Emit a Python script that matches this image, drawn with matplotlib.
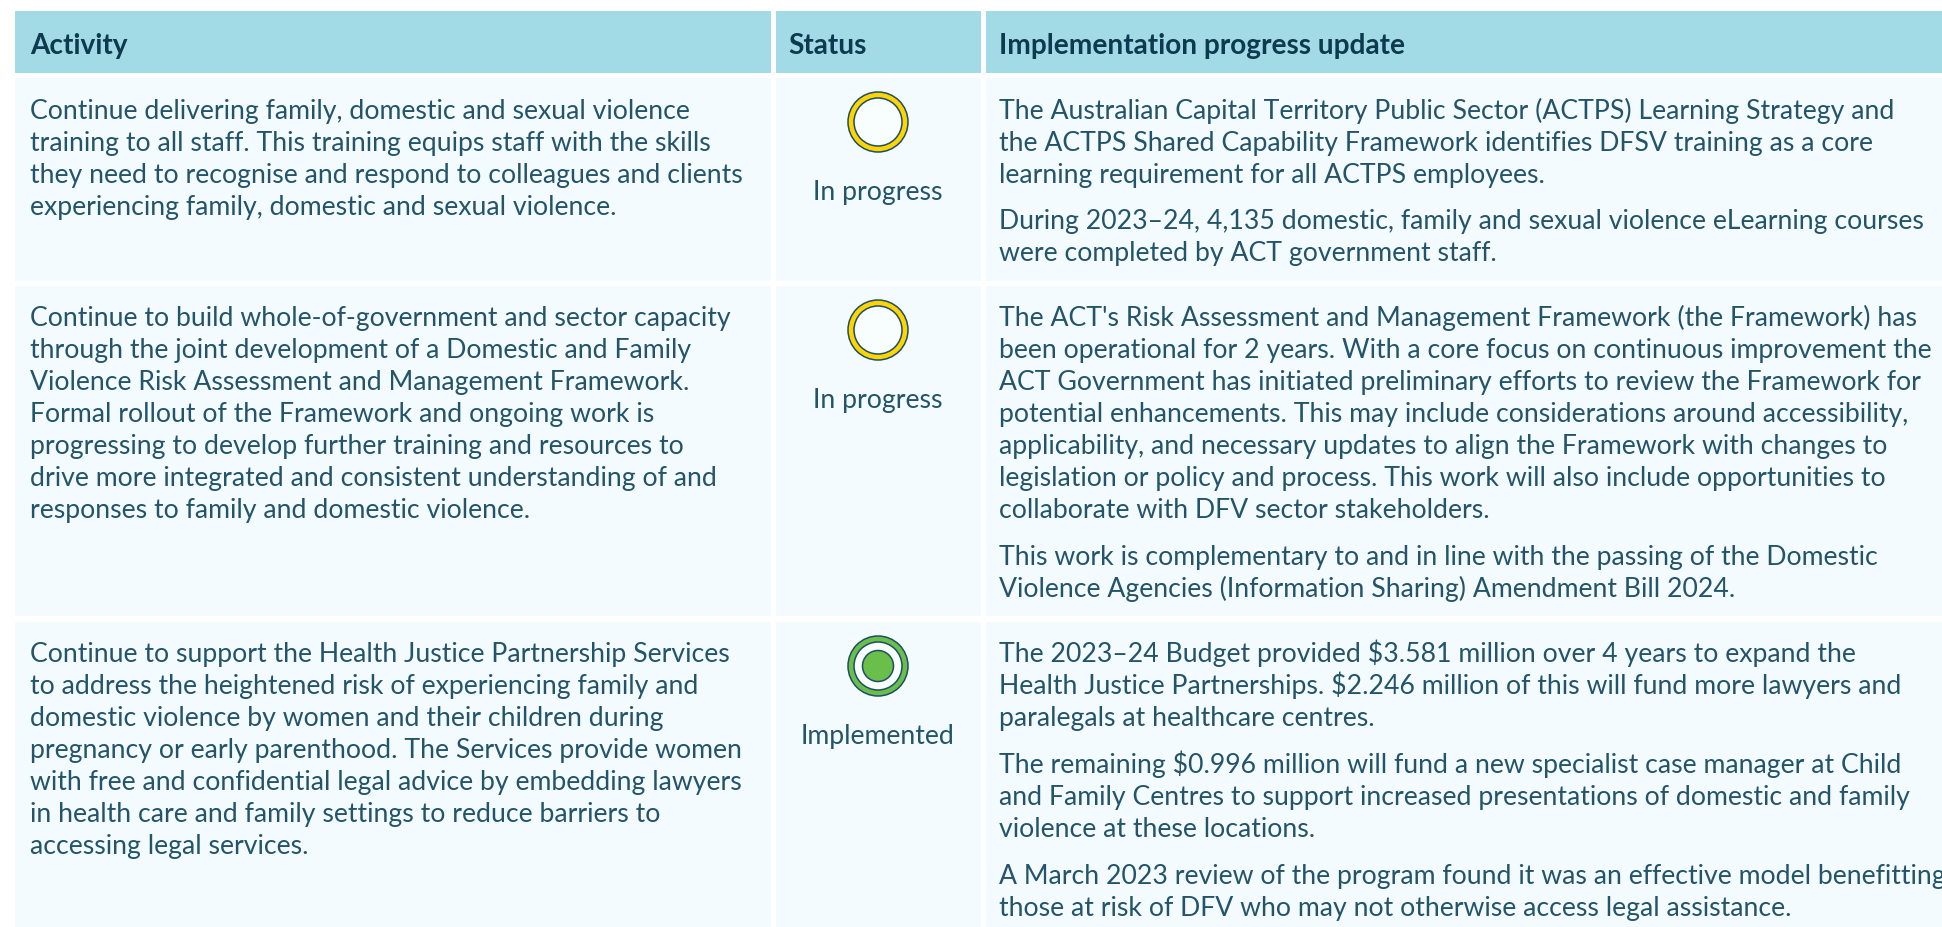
#!/usr/bin/env python3
import matplotlib
matplotlib.use('Agg')
import matplotlib.pyplot as plt
from matplotlib.patches import Rectangle, Circle

# Table content
headers = ['Activity', 'Status', 'Implementation progress update']

activity = [
    ['Continue delivering family, domestic and sexual violence',
     'training to all staff. This training equips staff with the skills',
     'they need to recognise and respond to colleagues and clients',
     'experiencing family, domestic and sexual violence.'],
    ['Continue to build whole-of-government and sector capacity',
     'through the joint development of a Domestic and Family',
     'Violence Risk Assessment and Management Framework.',
     'Formal rollout of the Framework and ongoing work is',
     'progressing to develop further training and resources to',
     'drive more integrated and consistent understanding of and',
     'responses to family and domestic violence.'],
    ['Continue to support the Health Justice Partnership Services',
     'to address the heightened risk of experiencing family and',
     'domestic violence by women and their children during',
     'pregnancy or early parenthood. The Services provide women',
     'with free and confidential legal advice by embedding lawyers',
     'in health care and family settings to reduce barriers to',
     'accessing legal services.'],
]

status = ['In progress', 'In progress', 'Implemented']

# each row is a list of paragraphs, each paragraph a list of lines
update = [
    [['The Australian Capital Territory Public Sector (ACTPS) Learning Strategy and',
      'the ACTPS Shared Capability Framework identifies DFSV training as a core',
      'learning requirement for all ACTPS employees.'],
     ['During 2023\u201324, 4,135 domestic, family and sexual violence eLearning courses',
      'were completed by ACT government staff.']],
    [["The ACT's Risk Assessment and Management Framework (the Framework) has",
      'been operational for 2 years. With a core focus on continuous improvement the',
      'ACT Government has initiated preliminary efforts to review the Framework for',
      'potential enhancements. This may include considerations around accessibility,',
      'applicability, and necessary updates to align the Framework with changes to',
      'legislation or policy and process. This work will also include opportunities to',
      'collaborate with DFV sector stakeholders.'],
     ['This work is complementary to and in line with the passing of the Domestic',
      'Violence Agencies (Information Sharing) Amendment Bill 2024.']],
    [['The 2023\u201324 Budget provided $3.581 million over 4 years to expand the',
      'Health Justice Partnerships. $2.246 million of this will fund more lawyers and',
      'paralegals at healthcare centres.'],
     ['The remaining $0.996 million will fund a new specialist case manager at Child',
      'and Family Centres to support increased presentations of domestic and family',
      'violence at these locations.'],
     ['A March 2023 review of the program found it was an effective model benefitting',
      'those at risk of DFV who may not otherwise access legal assistance.']],
]

# Layout in pixels
col_edges = [(15, 771), (776, 981), (986, 1943)]
text_x = [30, 788, 999]
header_band = (12, 74)
row_bands = [(79, 282), (287, 617), (623, 929)]
line_h = 32
para_gap = 47
base_off = 39.5

header_col = '#a2dbe6'
cell_col = '#f3fbfe'
text_col = '#235469'
head_text = '#0e3a4f'
edge_col = '#1e4f66'

plt.rcParams['font.family'] = ['Lato', 'DejaVu Sans']

fig = plt.figure(figsize=(19.42, 9.28), dpi=100, facecolor='white')
ax = fig.add_axes([0, 0, 1, 1])
ax.set_xlim(0, 1942)
ax.set_ylim(928, 0)
ax.axis('off')

text_size = 19.2
head_size = 20.2


def ring(cx, cy, colour, dot):
    ax.add_patch(Circle((cx, cy), 30, fc=colour, ec=edge_col, lw=1.1))
    ax.add_patch(Circle((cx, cy), 24, fc='#f8fdfe', ec=edge_col, lw=1.1))
    if dot:
        ax.add_patch(Circle((cx, cy), 15.5, fc=colour, ec=edge_col, lw=1.1))


# header
for (x0, x1), tx, label in zip(col_edges, text_x, headers):
    ax.add_patch(Rectangle((x0, header_band[0]), x1 - x0, header_band[1] - header_band[0], fc=header_col, ec='none'))
    ax.text(tx, 54, label, fontsize=head_size, fontweight='bold', color=head_text, va='baseline')

# rows
for i, (y0, y1) in enumerate(row_bands):
    for x0, x1 in col_edges:
        ax.add_patch(Rectangle((x0, y0), x1 - x0, y1 - y0, fc=cell_col, ec='none'))

    base = y0 + base_off
    for j, line in enumerate(activity[i]):
        ax.text(text_x[0], base + j * line_h, line, fontsize=text_size, color=text_col, va='baseline')

    if status[i] == 'Implemented':
        ring(878, y0 + 44, '#6abf4b', True)
    else:
        ring(878, y0 + 44, '#ffd400', False)
    ax.text(878, y0 + 121, status[i], fontsize=text_size, color=text_col, ha='center', va='baseline')

    y = base
    for para in update[i]:
        for line in para:
            ax.text(text_x[2], y, line, fontsize=text_size, color=text_col, va='baseline')
            y += line_h
        y += para_gap - line_h

fig.savefig('out.png', dpi=100)
